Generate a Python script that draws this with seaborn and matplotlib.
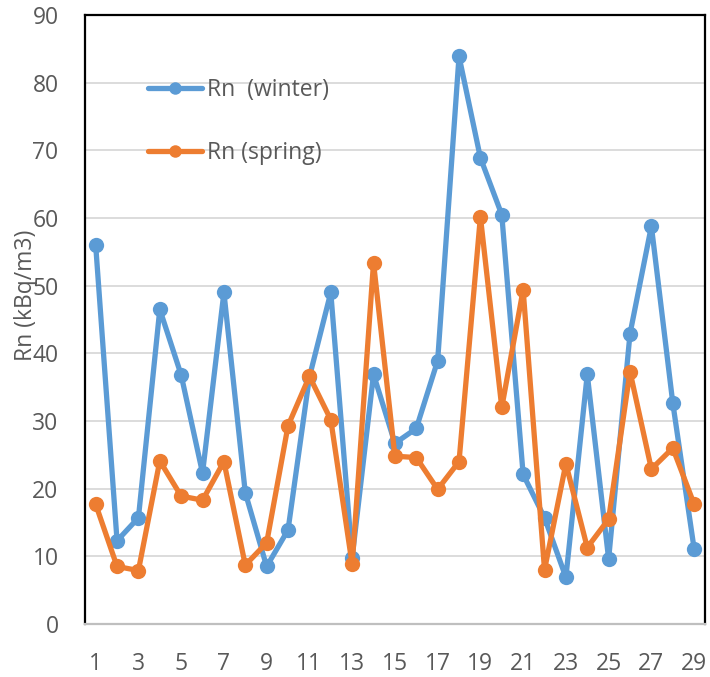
import matplotlib
matplotlib.use("Agg")
import matplotlib.pyplot as plt
import seaborn as sns
import pandas as pd

samples = list(range(1, 30))
winter = [56.0, 12.3, 15.7, 46.5, 36.8, 22.3, 49.0, 19.4, 8.5, 13.9,
          36.5, 49.0, 9.8, 36.9, 26.7, 28.9, 38.9, 83.9, 68.9, 60.5,
          22.1, 15.7, 6.9, 36.9, 9.6, 42.9, 58.8, 32.7, 11.1]
spring = [17.7, 8.5, 7.9, 24.1, 18.9, 18.3, 24.0, 8.7, 12.0, 29.3,
          36.6, 30.2, 8.8, 53.4, 24.8, 24.6, 19.9, 24.0, 60.2, 32.0,
          49.4, 8.0, 23.7, 11.3, 15.5, 37.3, 22.9, 26.0, 17.7]
series_names = ["Rn  (winter)", "Rn (spring)"]
colors = ["#5B9BD5", "#ED7D31"]
xtick_labels = [str(i) for i in range(1, 30, 2)]
ylabel = "Rn (kBq/m3)"

df = pd.DataFrame({
    "sample": samples * 2,
    "value": winter + spring,
    "series": [series_names[0]] * len(samples) + [series_names[1]] * len(samples),
})

sns.set_theme(style="white")
plt.rcParams["font.family"] = ["Open Sans", "DejaVu Sans"]

fig = plt.figure(figsize=(7.1, 6.77), dpi=100)
ax = fig.add_axes([0.1197, 0.0783, 0.873, 0.8995])

sns.lineplot(data=df, x="sample", y="value", hue="series", palette=colors,
             marker="o", markersize=11, linewidth=3.8, markeredgewidth=0,
             ax=ax, legend=True, zorder=3)

ax.set_xlim(0.5, 29.5)
ax.set_ylim(0, 90)
ax.set_yticks(range(0, 91, 10))
ax.set_xticks(range(1, 30, 2))
ax.set_xticklabels(xtick_labels)
ax.yaxis.grid(True, color="#d9d9d9", linewidth=1.3, zorder=0)
ax.xaxis.grid(False)
ax.set_axisbelow(True)
ax.tick_params(axis="both", labelsize=16.5, colors="#595959", length=0)
ax.tick_params(axis="x", pad=20)
ax.tick_params(axis="y", pad=19)
ax.set_xlabel("")
ax.set_ylabel(ylabel, fontsize=16.5, color="#595959")
ax.yaxis.set_label_coords(-0.076, 0.54)

for side in ["left", "top", "right"]:
    ax.spines[side].set_color("black")
    ax.spines[side].set_linewidth(1.6)
ax.spines["bottom"].set_color("#bfbfbf")
ax.spines["bottom"].set_linewidth(1.6)

handles, labels = ax.get_legend_handles_labels()
for h in handles:
    h.set_markersize(9)
leg = ax.legend(handles, labels, loc="upper left", bbox_to_anchor=(0.087, 0.912),
                frameon=False, fontsize=16.5, handlelength=2.35, handletextpad=0.2,
                labelspacing=1.7, borderaxespad=0)
for t in leg.get_texts():
    t.set_color("#595959")

fig.savefig("out.png", dpi=100, facecolor="white")
